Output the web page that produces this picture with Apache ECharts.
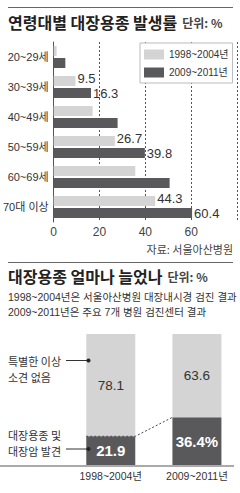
<!DOCTYPE html>
<html>
<head>
<meta charset="utf-8">
<script src="https://cdn.jsdelivr.net/npm/echarts@6/dist/echarts.min.js"></script>
<style>
html,body{margin:0;padding:0;background:#fff;}
#c{width:240px;height:493px;}
</style>
</head>
<body>
<div id="c"></div>
<script>
// ---- data ----
const ageGroups = ['20~29세', '30~39세', '40~49세', '50~59세', '60~69세', '70대 이상'];
const period1Name = '1998~2004년';
const period2Name = '2009~2011년';
const rate1998 = [1.3, 9.5, 17.0, 26.7, 35.6, 44.3];
const rate2009 = [5.1, 16.3, 27.9, 39.8, 50.6, 60.4];
const labeledAges = ['30~39세', '50~59세', '70대 이상'];
const rateTicks = [0, 20, 40, 60];

const periods = ['1998~2004년', '2009~2011년'];
const foundShare = [21.9, 36.4];      // 대장용종 및 대장암 발견
const normalShare = [78.1, 63.6];     // 특별한 이상 소견 없음
const foundSuffix = ['', '%'];

const NARROW = '"Liberation Sans Narrow", "Liberation Sans", "Noto Sans CJK KR", sans-serif';
const CJK = '"Noto Sans CJK KR", sans-serif';
const LIGHT = '#d4d4d4';
const DARK = '#59595b';

const chart = echarts.init(document.getElementById('c'), null, {renderer: 'svg'});

function mkData(vals) {
  return vals.map((v, i) => ({value: v, label: {show: labeledAges.indexOf(ageGroups[i]) >= 0}}));
}

const option = {
  backgroundColor: '#fff',
  animation: false,
  title: [
    {
      left: 8, top: 13, padding: 0,
      text: '{a|연령대별 대장용종 발생률} {b|단위: %}',
      textStyle: {rich: {
        a: {fontFamily: CJK, fontSize: 16, fontWeight: 'bold', color: '#222'},
        b: {fontFamily: CJK, fontSize: 12, color: '#444'}
      }}
    },
    {
      right: 7, top: 243, padding: 0,
      text: '자료: 서울아산병원',
      textStyle: {fontFamily: CJK, fontSize: 11, fontWeight: 'normal', color: '#444'}
    },
    {
      left: 8, top: 267, padding: 0,
      text: '{a|대장용종 얼마나 늘었나} {b|단위: %}',
      textStyle: {rich: {
        a: {fontFamily: CJK, fontSize: 16, fontWeight: 'bold', color: '#222'},
        b: {fontFamily: CJK, fontSize: 12, color: '#444'}
      }}
    },
    {
      left: 8, top: 289, padding: 0,
      text: '1998~2004년은 서울아산병원 대장내시경 검진 결과\n2009~2011년은 주요 7개 병원 검진센터 결과',
      textStyle: {fontFamily: NARROW, fontSize: 10.5, lineHeight: 15, fontWeight: 'normal', color: '#333'}
    },
    {
      left: 8, top: 353, padding: 0,
      text: '특별한 이상\n소견 없음',
      textStyle: {fontFamily: CJK, fontSize: 11, lineHeight: 16, fontWeight: 'normal', color: '#333'}
    },
    {
      left: 8, top: 427, padding: 0,
      text: '대장용종 및\n대장암 발견',
      textStyle: {fontFamily: CJK, fontSize: 11, lineHeight: 16, fontWeight: 'normal', color: '#333'}
    }
  ],
  legend: {
    data: [period1Name, period2Name],
    orient: 'vertical',
    left: 140, top: 43,
    padding: [5, 4, 4, 4],
    itemGap: 5,
    itemWidth: 20, itemHeight: 10,
    icon: 'rect',
    backgroundColor: '#fff',
    borderColor: '#bbb', borderWidth: 1, borderRadius: 0,
    textStyle: {fontFamily: NARROW, fontSize: 10, lineHeight: 13, color: '#333'}
  },
  grid: [
    {left: 53.3, right: -18.9, top: 42, height: 180},
    {left: 67.7, right: -6.1, top: 334, bottom: 28}
  ],
  xAxis: [
    {
      gridIndex: 0, type: 'value', min: 0, max: 80, interval: 20,
      axisLine: {show: false}, axisTick: {show: false},
      axisLabel: {margin: 4, fontFamily: NARROW, fontSize: 12, color: '#444',
        formatter: v => rateTicks.indexOf(v) >= 0 ? String(v) : ''},
      splitLine: {show: true, lineStyle: {color: '#555', width: 1, type: [2, 2]}}
    },
    {
      gridIndex: 1, type: 'category', data: periods,
      axisLine: {show: false}, axisTick: {show: false},
      axisLabel: {interval: 0, margin: 6, fontFamily: NARROW, fontSize: 10.5, color: '#333'}
    }
  ],
  yAxis: [
    {
      gridIndex: 0, type: 'category', data: ageGroups, inverse: true,
      axisLine: {show: true, lineStyle: {color: '#555', width: 1}},
      axisTick: {show: false},
      axisLabel: {interval: 0, margin: 5, fontFamily: NARROW, fontSize: 11, color: '#333'}
    },
    {
      gridIndex: 1, type: 'value', min: 0, max: 100, show: false
    }
  ],
  series: [
    {
      name: period1Name, type: 'bar', xAxisIndex: 0, yAxisIndex: 0,
      data: mkData(rate1998), barWidth: 10, barGap: '20%',
      itemStyle: {color: LIGHT},
      label: {position: 'right', distance: 2, offset: [0, -3],
        fontFamily: NARROW, fontSize: 13, color: '#333'}
    },
    {
      name: period2Name, type: 'bar', xAxisIndex: 0, yAxisIndex: 0,
      data: mkData(rate2009), barWidth: 10, barGap: '20%',
      itemStyle: {color: DARK},
      label: {position: 'right', distance: 2, offset: [0, 0],
        fontFamily: NARROW, fontSize: 13, color: '#333'}
    },
    {
      name: '대장용종 및 대장암 발견', type: 'bar', xAxisIndex: 1, yAxisIndex: 1,
      stack: 'share', data: foundShare, barWidth: 49,
      itemStyle: {color: DARK},
      label: {show: true, position: 'inside', fontFamily: NARROW, fontSize: 15, fontWeight: 'bold', color: '#fff',
        formatter: p => p.value + foundSuffix[p.dataIndex]}
    },
    {
      name: '특별한 이상 소견 없음', type: 'bar', xAxisIndex: 1, yAxisIndex: 1,
      stack: 'share', data: normalShare, barWidth: 49,
      itemStyle: {color: LIGHT},
      label: {show: true, position: 'inside', fontFamily: NARROW, fontSize: 13.5, color: '#333'}
    },
    {
      name: 'connector', type: 'custom', xAxisIndex: 1, yAxisIndex: 1, z: 10, silent: true,
      data: [[0, foundShare[0], 1, foundShare[1]]],
      encode: {x: 0, y: 1},
      renderItem: function (params, api) {
        const a = api.coord([api.value(0), api.value(1)]);
        const b = api.coord([api.value(2), api.value(3)]);
        const hw = 24.5;
        return {
          type: 'polyline',
          shape: {points: [[a[0] - hw, a[1]], [a[0] + hw, a[1]], [b[0] - hw, b[1]]]},
          style: {stroke: '#444', lineWidth: 1, lineDash: [2, 2], fill: null}
        };
      }
    }
  ],
  graphic: [
    {type: 'line', shape: {x1: 8, y1: 7.5, x2: 233, y2: 7.5}, style: {stroke: '#666', lineWidth: 1}},
    {type: 'line', shape: {x1: 8, y1: 262.5, x2: 233, y2: 262.5}, style: {stroke: '#666', lineWidth: 1}},
    {type: 'line', shape: {x1: 0, y1: 466, x2: 234, y2: 466}, style: {stroke: '#aaa', lineWidth: 2}, z: 5},
    {type: 'line', shape: {x1: 66, y1: 360.5, x2: 88, y2: 360.5}, style: {stroke: '#333', lineWidth: 1}, z: 20},
    {type: 'circle', shape: {cx: 88.5, cy: 360.5, r: 2}, style: {fill: '#222'}, z: 20},
    {type: 'line', shape: {x1: 66, y1: 449, x2: 88, y2: 449}, style: {stroke: '#333', lineWidth: 1}, z: 20},
    {type: 'circle', shape: {cx: 88.5, cy: 449, r: 2}, style: {fill: '#222'}, z: 20}
  ]
};
chart.setOption(option);
</script>
</body>
</html>
